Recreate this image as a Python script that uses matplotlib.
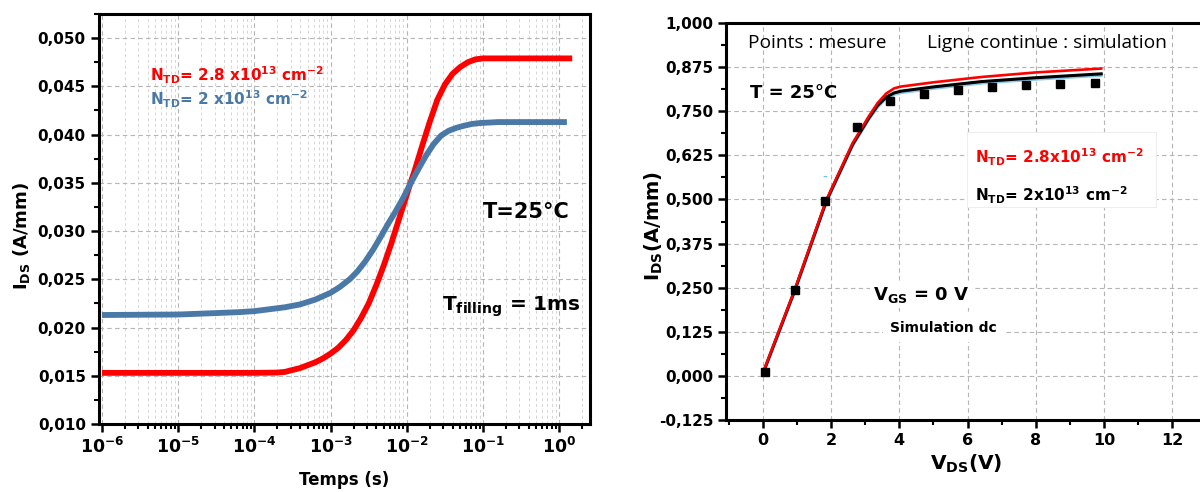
import matplotlib
matplotlib.use("Agg")
import matplotlib.pyplot as plt
import matplotlib.ticker as mticker
import matplotlib.transforms as mtransforms
import numpy as np

plt.rcParams['font.family'] = ['DejaVu Sans']
plt.rcParams['mathtext.fontset'] = 'dejavusans'
plt.rcParams['mathtext.default'] = 'bf'

# ---- Left panel: transient I_DS(t), time as log10(s) ----
red_logt = [-6.0, -5.0, -4.0, -3.7, -3.6, -3.5, -3.4, -3.3, -3.2, -3.1,
            -3.0, -2.9, -2.8, -2.7, -2.6, -2.5, -2.4, -2.3, -2.2, -2.1,
            -2.0, -1.96, -1.9, -1.8, -1.7, -1.6, -1.5, -1.4, -1.3, -1.2,
            -1.1, -1.0, -0.5, 0.0, 0.17]
red_ids = [0.0153, 0.0153, 0.0153, 0.01533, 0.0154, 0.0156, 0.0158, 0.0161, 0.0164, 0.0168,
           0.0173, 0.0179, 0.0187, 0.0197, 0.0210, 0.0225, 0.0244, 0.0265, 0.0288, 0.0313,
           0.0338, 0.0348, 0.0362, 0.0388, 0.0413, 0.0436, 0.0452, 0.0463, 0.0470, 0.0475,
           0.0478, 0.0479, 0.0479, 0.0479, 0.0479]

blue_logt = [-6.0, -5.0, -4.5, -4.19, -4.0, -3.8, -3.6, -3.4, -3.2, -3.0,
             -2.88, -2.75, -2.65, -2.55, -2.44, -2.35, -2.25, -2.15, -2.05, -1.96,
             -1.85, -1.75, -1.65, -1.55, -1.45, -1.35, -1.26, -1.15, -1.04, -0.8,
             -0.5, 0.0, 0.10]
blue_ids = [0.0213, 0.02135, 0.0215, 0.0216, 0.0217, 0.0219, 0.0221, 0.0224, 0.0229, 0.0236,
            0.0242, 0.0250, 0.0258, 0.0268, 0.0281, 0.0293, 0.0307, 0.0320, 0.0334, 0.0348,
            0.0364, 0.0378, 0.0390, 0.0399, 0.0404, 0.0407, 0.0409, 0.0411, 0.0412, 0.0413,
            0.0413, 0.0413, 0.0413]

# ---- Right panel: I_DS(V_DS) ----
meas_vds = [0.06, 0.93, 1.83, 2.77, 3.72, 4.72, 5.72, 6.72, 7.72, 8.71, 9.74]
meas_ids = [0.010, 0.243, 0.497, 0.705, 0.779, 0.800, 0.810, 0.820, 0.825, 0.826, 0.829]

sim28_vds = [0.05, 0.93, 1.86, 2.63, 3.10, 3.36, 3.61, 3.85, 4.05, 5.0, 6.4, 8.0, 9.92]
sim28_ids = [0.022, 0.244, 0.499, 0.660, 0.735, 0.773, 0.800, 0.815, 0.820, 0.832, 0.847, 0.860, 0.871]

sim20_vds = [0.05, 0.93, 1.86, 2.63, 3.10, 3.36, 3.61, 3.85, 4.05, 5.0, 6.4, 8.0, 9.92]
sim20_ids = [0.020, 0.242, 0.496, 0.656, 0.730, 0.766, 0.790, 0.802, 0.807, 0.819, 0.834, 0.845, 0.856]

RED = '#ff0000'
BLUE = '#4a79a7'

fig = plt.figure(figsize=(12, 4.92), dpi=100)


def comma_fmt(v, p):
    return f"{v:.3f}".replace('.', ',')


def style_axes(ax, xsize=11, ysize=11):
    for s in ax.spines.values():
        s.set_linewidth(2.2)
    ax.tick_params(which='major', direction='out', length=6, width=1.8)
    ax.tick_params(which='minor', direction='out', length=3.5, width=1.5)
    ax.tick_params(axis='x', labelsize=xsize)
    ax.tick_params(axis='y', labelsize=ysize)
    for lab in ax.get_xticklabels() + ax.get_yticklabels():
        lab.set_fontweight('bold')


# ================= left =================
ax1 = fig.add_axes([0.0825, 0.1382, 0.4092, 0.8333])
ax1.set_xscale('log')
ax1.plot(10 ** np.array(red_logt), red_ids, color=RED, lw=4.2, solid_capstyle='butt', zorder=3)
ax1.plot(10 ** np.array(blue_logt), blue_ids, color=BLUE, lw=4.2, solid_capstyle='butt', zorder=3)
ax1.set_xlim(10 ** -6.039, 10 ** 0.404)
ax1.set_ylim(0.010, 0.0525)
ax1.set_xticks([1e-6, 1e-5, 1e-4, 1e-3, 1e-2, 1e-1, 1e0])
ax1.xaxis.set_major_formatter(mticker.LogFormatterSciNotation())
ax1.xaxis.set_minor_locator(mticker.LogLocator(subs=np.arange(2, 10)))
ax1.xaxis.set_minor_formatter(mticker.NullFormatter())
ax1.set_yticks(np.arange(0.010, 0.0501, 0.005))
ax1.yaxis.set_minor_locator(mticker.MultipleLocator(0.0025))
ax1.yaxis.set_major_formatter(mticker.FuncFormatter(comma_fmt))
ax1.grid(True, which='major', ls=(0, (4, 3)), color='#b5b5b5', lw=0.8)
ax1.grid(True, which='minor', axis='x', ls=(0, (3, 3)), color='#d5d5d5', lw=0.7)
style_axes(ax1, xsize=12.5, ysize=11)
ax1.set_xlabel('Temps (s)', fontsize=12, fontweight='bold', labelpad=10)

fig.text(0.018, 0.52, r'I$_{DS}$ (A/mm)', rotation=90, fontsize=13, fontweight='bold',
         ha='center', va='center')

ax1.text(0.104, 0.851, r'N$_{TD}$= 2.8 x10$^{13}$ cm$^{-2}$', transform=ax1.transAxes,
         color=RED, fontsize=11, fontweight='bold', va='center')
ax1.text(0.104, 0.793, r'N$_{TD}$= 2 x10$^{13}$ cm$^{-2}$', transform=ax1.transAxes,
         color=BLUE, fontsize=11, fontweight='bold', va='center')
ax1.text(0.782, 0.517, 'T=25°C', transform=ax1.transAxes, fontsize=15,
         fontweight='bold', va='center')
ax1.text(0.699, 0.285, r'T$_{filling}$ = 1ms', transform=ax1.transAxes, fontsize=14.5,
         fontweight='bold', va='center')

# ================= right =================
ax2 = fig.add_axes([0.6054, 0.1463, 0.3998, 0.8069])
ax2.plot(sim20_vds, sim20_ids, color='#8ec9ee', lw=2.0, zorder=2,
         transform=ax2.transData + mtransforms.ScaledTranslation(0, -1.2 / 72, fig.dpi_scale_trans))
ax2.plot(sim20_vds, sim20_ids, color='black', lw=2.2, zorder=3)
ax2.plot(sim28_vds, sim28_ids, color=RED, lw=1.9, zorder=4)
ax2.plot(meas_vds, meas_ids, ls='none', marker='s', ms=5.5, color='black', zorder=5)
ax2.set_xlim(-1.07, 13.0)
ax2.set_ylim(-0.125, 1.0)
ax2.set_xticks(np.arange(0, 13, 2))
ax2.xaxis.set_minor_locator(mticker.MultipleLocator(1))
ax2.set_yticks(np.arange(-0.125, 1.001, 0.125))
ax2.yaxis.set_minor_locator(mticker.MultipleLocator(0.0625))
ax2.yaxis.set_major_formatter(mticker.FuncFormatter(comma_fmt))
ax2.grid(True, which='major', ls=(0, (4, 3)), color='#b5b5b5', lw=0.8)
ax2.spines['right'].set_visible(False)
style_axes(ax2, xsize=11.5, ysize=11)
ax2.set_xlabel(r'V$_{DS}$(V)', fontsize=14.5, fontweight='bold', labelpad=3)
fig.text(0.545, 0.54, r'I$_{DS}$(A/mm)', rotation=90, fontsize=14, fontweight='bold',
         ha='center', va='center')

ax2.text(0.045, 0.950, 'Points : mesure', transform=ax2.transAxes, fontsize=13.8,
         family='Open Sans', va='center')
ax2.text(0.418, 0.950, 'Ligne continue : simulation', transform=ax2.transAxes,
         fontsize=13.8, family='Open Sans', va='center')
ax2.text(0.049, 0.824, 'T = 25°C', transform=ax2.transAxes, fontsize=13,
         fontweight='bold', va='center')
ax2.add_patch(plt.Rectangle((0.501, 0.537), 0.394, 0.188, transform=ax2.transAxes,
                            facecolor='white', edgecolor='#eeeeee', lw=0.8, zorder=6))
ax2.text(0.518, 0.662, r'N$_{TD}$= 2.8x10$^{13}$ cm$^{-2}$', transform=ax2.transAxes,
         color=RED, fontsize=11, fontweight='bold', va='center', zorder=7)
ax2.text(0.518, 0.567, r'N$_{TD}$= 2x10$^{13}$ cm$^{-2}$', transform=ax2.transAxes,
         color='black', fontsize=11, fontweight='bold', va='center', zorder=7)
ax2.text(0.305, 0.315, r'V$_{GS}$ = 0 V', transform=ax2.transAxes, fontsize=13,
         fontweight='bold', va='center', zorder=7,
         bbox=dict(facecolor='white', edgecolor='none', pad=2))
ax2.text(0.341, 0.232, 'Simulation dc', transform=ax2.transAxes, fontsize=10,
         fontweight='bold', va='center', zorder=7,
         bbox=dict(facecolor='white', edgecolor='none', pad=5))
ax2.text(0.205, 0.61, '-', transform=ax2.transAxes, fontsize=10, color='#5bc0f0',
         ha='center', va='center')

fig.savefig('out.png', dpi=100)
